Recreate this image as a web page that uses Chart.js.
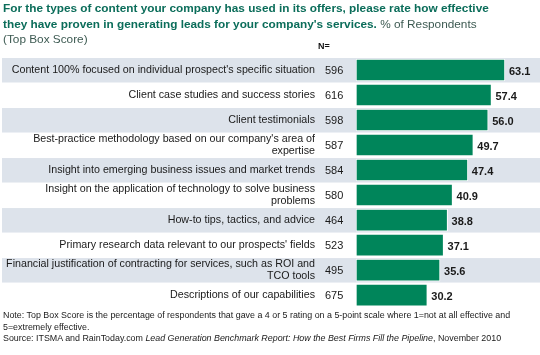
<!DOCTYPE html>
<html>
<head>
<meta charset="utf-8">
<script src="https://cdn.jsdelivr.net/npm/chart.js@4/dist/chart.umd.min.js"></script>
<style>
  html, body { margin: 0; padding: 0; background: #fff; }
  #wrap { position: relative; width: 540px; height: 355px; overflow: hidden; font-family: Arial, "Liberation Sans", sans-serif; }
  #c { position: absolute; left: 0; top: 0; }
  #title { position: absolute; left: 3px; top: 1px; width: 537px; font-size: 11.8px; line-height: 15.5px; color: #0b6d5a; font-weight: bold; white-space: nowrap; }
  #title span { font-weight: normal; color: #3d5a52; }
  #n { position: absolute; left: 318px; top: 41px; font-size: 9px; font-weight: bold; color: #111; }
  #note { position: absolute; left: 3px; top: 310px; width: 537px; font-size: 8.9px; line-height: 11.5px; color: #1a1a1a; white-space: nowrap; }
</style>
</head>
<body>
<div id="wrap">
  <canvas id="c" width="540" height="355"></canvas>
  <div id="title">For the types of content your company has used in its offers, please rate how effective<br>they have proven in generating leads for your company's services. <span>% of Respondents<br>(Top Box Score)</span></div>
  <div id="n">N=</div>
  <div id="note">Note: Top Box Score is the percentage of respondents that gave a 4 or 5 rating on a 5-point scale where 1=not at all effective and<br>5=extremely effective.<br>Source: ITSMA and RainToday.com <i>Lead Generation Benchmark Report: How the Best Firms Fill the Pipeline</i>, November 2010</div>
</div>
<script>
const categories = [
  "Content 100% focused on individual prospect's specific situation",
  "Client case studies and success stories",
  "Client testimonials",
  ["Best-practice methodology based on our company's area of", "expertise"],
  "Insight into emerging business issues and market trends",
  ["Insight on the application of technology to solve business", "problems"],
  "How-to tips, tactics, and advice",
  "Primary research data relevant to our prospects' fields",
  ["Financial justification of contracting for services, such as ROI and", "TCO tools"],
  "Descriptions of our capabilities"
];
const respondents = [596, 616, 598, 587, 584, 580, 464, 523, 495, 675];
const topBoxScore = [63.1, 57.4, 56.0, 49.7, 47.4, 40.9, 38.8, 37.1, 35.6, 30.2];

const bandPlugin = {
  id: 'bands',
  beforeDraw(chart) {
    const ctx = chart.ctx, y = chart.scales.y;
    ctx.save();
    ctx.fillStyle = '#dde3eb';
    for (let i = 0; i < categories.length; i += 2) {
      const c = y.getPixelForValue(i);
      ctx.fillRect(2, c - 12, 538, 24.5);
    }
    ctx.restore();
  }
};

const textPlugin = {
  id: 'texts',
  afterDatasetsDraw(chart) {
    const ctx = chart.ctx, y = chart.scales.y, x = chart.scales.x;
    ctx.save();
    ctx.textBaseline = 'middle';
    ctx.font = '11px Arial, "Liberation Sans", sans-serif';
    ctx.fillStyle = '#1a1a1a';
    ctx.textAlign = 'left';
    respondents.forEach((n, i) => {
      ctx.fillText(String(n), 325, y.getPixelForValue(i) + 1);
    });
    ctx.font = 'bold 11px Arial, "Liberation Sans", sans-serif';
    topBoxScore.forEach((v, i) => {
      ctx.fillText(v.toFixed(1), x.getPixelForValue(v) + 4, y.getPixelForValue(i) + 2);
    });
    ctx.restore();
  }
};

new Chart(document.getElementById('c'), {
  type: 'bar',
  data: {
    labels: categories,
    datasets: [{
      data: topBoxScore,
      backgroundColor: '#00855a',
      borderColor: '#ffffff',
      borderWidth: 1,
      borderSkipped: false,
      barThickness: 22
    }]
  },
  options: {
    indexAxis: 'y',
    responsive: false,
    animation: false,
    devicePixelRatio: 1,
    layout: { padding: { top: 57.5, bottom: 46.5, left: 0, right: 7 } },
    plugins: { legend: { display: false }, tooltip: { enabled: false }, title: { display: false } },
    scales: {
      x: { display: false, min: 0, max: 75 },
      y: {
        grid: { display: false, drawTicks: false },
        border: { display: false },
        ticks: {
          padding: 41,
          autoSkip: false,
          color: '#1a1a1a',
          font: { family: 'Arial, "Liberation Sans", sans-serif', size: 10.7, lineHeight: 1.2 }
        },
        afterFit(scale) { scale.width = 356; }
      }
    }
  },
  plugins: [bandPlugin, textPlugin]
});
</script>
</body>
</html>
